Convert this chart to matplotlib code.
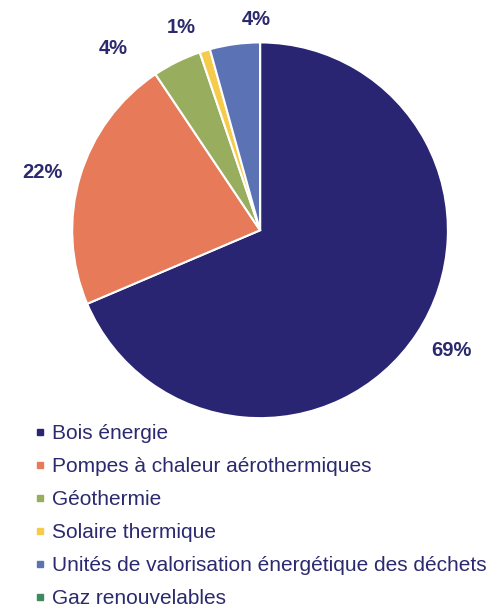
import matplotlib
matplotlib.use('Agg')
import matplotlib.pyplot as plt
from matplotlib.lines import Line2D

plt.rcParams['font.family'] = ['Liberation Sans', 'DejaVu Sans']

# données
categories = ['Bois énergie', 'Pompes à chaleur aérothermiques', 'Géothermie',
              'Solaire thermique', 'Unités de valorisation énergétique des déchets',
              'Gaz renouvelables']
parts = [68.6, 22.0, 4.2, 0.9, 4.3, 0.0]
couleurs = ['#2a2572', '#e77a58', '#98ad5e', '#f6cb4c', '#5b72b4', '#3f8a5c']
texte_col = '#2b2a6e'

# position des étiquettes (coord. du camembert, rayon = 1)
pos_etiquettes = [(1.02, -0.64), (-1.16, 0.31), (-0.78, 0.97), (-0.42, 1.08), (-0.02, 1.12), None]

fig = plt.figure(figsize=(4.93, 6.06), dpi=100)
ax = fig.add_axes([0.146, 0.310, 0.763, 0.620])

def etiquette(p):
    return '%d%%' % round(p) if p >= 0.5 else ''

wedges, _, autotexts = ax.pie(parts, colors=couleurs, startangle=90, counterclock=False,
                              autopct=etiquette, pctdistance=1.15,
                              wedgeprops=dict(edgecolor='white', linewidth=1.5),
                              textprops=dict(color=texte_col, fontsize=14.5, fontweight='bold'))
for t, pos in zip(autotexts, pos_etiquettes):
    if pos is not None:
        t.set_position(pos)
        t.set_ha('center')
        t.set_va('center')

ax.set_xlim(-1, 1)
ax.set_ylim(-1, 1)
ax.set_aspect('equal')

handles = [Line2D([0], [0], marker='s', color='w', markerfacecolor=c, markeredgecolor=c,
                  markersize=5, linestyle='') for c in couleurs]
fig.legend(handles, categories, loc='upper left', bbox_to_anchor=(0.0516, 0.314),
           frameon=False, fontsize=15, labelcolor=texte_col, handlelength=0.6,
           handletextpad=0.28, labelspacing=0.67, borderaxespad=0)

fig.savefig('out.png', dpi=100)
